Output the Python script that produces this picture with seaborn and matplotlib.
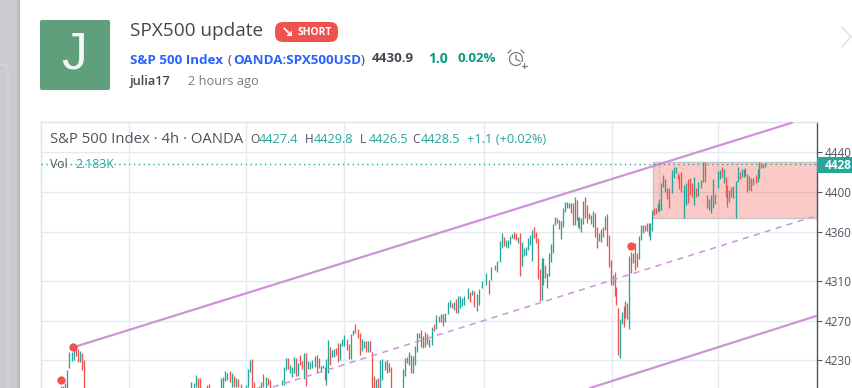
"""Redraws the SPX500 update idea card: header text plus the 4h candle chart."""
import matplotlib
matplotlib.use("Agg")
import matplotlib.pyplot as plt
import pandas as pd
import seaborn as sns
from matplotlib.lines import Line2D
from matplotlib.patches import Circle, FancyBboxPatch, Rectangle

# candles, position along the time axis, open and close
bar_pos = [61, 63, 65, 67, 69, 72, 74, 76, 78, 80, 82, 84,
           191, 194, 196, 198, 200, 207, 209, 221, 223, 225, 227, 230, 232, 234, 236, 238, 241,
           246, 248, 250, 252, 254, 257, 259, 261, 263, 266, 268, 270,
           282, 284, 286, 288, 290, 292, 294, 296, 298, 300, 302, 304, 306, 308, 310, 312, 315,
           317, 319, 321, 323, 325, 326, 328, 330, 332, 334, 336, 338, 340, 342, 344, 347, 349,
           351, 353, 355, 358, 360, 362, 364, 366, 368, 370, 372, 374, 376, 378, 380, 382, 385,
           387, 389, 391, 403, 405, 407, 409, 411, 413, 415, 417, 419, 421, 423, 425, 427, 429,
           432, 434, 436, 439, 441, 443, 445, 448, 450, 452, 454, 456, 458, 460, 462, 464, 468,
           470, 472, 474, 477, 479, 482, 486, 489, 491, 495, 497, 500, 502, 504, 506, 508, 510,
           512, 514, 516, 518, 520, 522, 524, 526, 528, 530, 532, 534, 536, 538, 540, 542, 543,
           545, 547, 549, 551, 553, 555, 557, 559, 561, 563, 565, 567, 569, 571, 573, 575, 577,
           578, 579, 581, 583, 585, 587, 589, 591, 593, 595, 597, 599, 601, 603, 605, 607, 609,
           611, 613, 615, 616, 618, 620, 622, 624, 625, 627, 629, 631, 633, 635, 637, 639, 641,
           643, 645, 647, 649, 650, 652, 654, 656, 658, 659, 661, 663, 665, 667, 669, 672, 674,
           676, 678, 679, 681, 684, 686, 688, 690, 692, 694, 696, 698, 701, 703, 705, 707, 709,
           711, 713, 715, 718, 720, 722, 724, 726, 727, 729, 731, 733, 736, 738, 740, 742, 744,
           745, 747, 749, 751, 753, 756, 758, 759, 761, 763, 765]
bar_open = [4195, 4195, 4207, 4195, 4222, 4229, 4230, 4242, 4241, 4228, 4237, 4230,
            4195, 4195, 4203, 4212, 4212, 4205, 4206, 4195, 4195, 4209, 4210, 4219, 4203, 4214, 4203, 4211, 4206,
            4195, 4203, 4218, 4231, 4208, 4203, 4204, 4195, 4216, 4202, 4212, 4210,
            4205, 4205, 4220, 4232, 4217, 4213, 4217, 4232, 4214, 4235, 4229, 4211, 4237, 4221, 4221, 4222, 4223,
            4235, 4232, 4218, 4222, 4223, 4205, 4217, 4243, 4233, 4233, 4242, 4247, 4230, 4244, 4244, 4251, 4246,
            4231, 4256, 4267, 4262, 4258, 4239, 4242, 4249, 4238, 4249, 4238, 4214, 4195, 4212, 4195, 4210, 4220,
            4230, 4227, 4223, 4195, 4214, 4233, 4225, 4235, 4217, 4225, 4238, 4253, 4261, 4242, 4259, 4257, 4243,
            4245, 4267, 4262, 4275, 4269, 4277, 4269, 4277, 4284, 4288, 4281, 4292, 4278, 4283, 4285, 4286, 4292,
            4299, 4296, 4300, 4280, 4286, 4303, 4306, 4311, 4311, 4326, 4319, 4329, 4343, 4355, 4344, 4343, 4347,
            4354, 4360, 4359, 4348, 4359, 4325, 4335, 4336, 4341, 4346, 4330, 4365, 4360, 4354, 4322, 4291, 4306,
            4326, 4303, 4315, 4329, 4338, 4367, 4374, 4372, 4353, 4365, 4380, 4384, 4384, 4389, 4389, 4367, 4392,
            4365, 4375, 4360, 4368, 4395, 4387, 4379, 4368, 4365, 4379, 4365, 4350, 4349, 4365, 4362, 4378, 4357,
            4331, 4306, 4319, 4304, 4283, 4232, 4267, 4285, 4273, 4288, 4262, 4339, 4328, 4348, 4338, 4332, 4351,
            4367, 4361, 4369, 4369, 4351, 4361, 4384, 4384, 4380, 4381, 4382, 4417, 4400, 4404, 4404, 4399, 4414,
            4419, 4419, 4417, 4420, 4374, 4387, 4413, 4414, 4409, 4387, 4404, 4396, 4404, 4410, 4430, 4397, 4382,
            4379, 4384, 4398, 4404, 4413, 4425, 4409, 4415, 4407, 4390, 4405, 4394, 4374, 4410, 4420, 4415, 4415,
            4424, 4418, 4402, 4414, 4407, 4417, 4410, 4414, 4429, 4428, 4425]
bar_close = [4204, 4204, 4195, 4220, 4238, 4238, 4241, 4234, 4228, 4239, 4220, 4195,
             4208, 4207, 4215, 4195, 4195, 4195, 4195, 4212, 4213, 4219, 4217, 4208, 4217, 4203, 4212, 4203, 4195,
             4205, 4221, 4230, 4195, 4195, 4195, 4195, 4208, 4203, 4213, 4205, 4202,
             4210, 4223, 4232, 4221, 4225, 4223, 4233, 4214, 4227, 4225, 4221, 4237, 4204, 4229, 4228, 4230, 4234,
             4217, 4222, 4224, 4225, 4210, 4231, 4250, 4225, 4240, 4241, 4235, 4228, 4247, 4252, 4256, 4240, 4231,
             4257, 4261, 4258, 4253, 4235, 4252, 4249, 4238, 4249, 4238, 4195, 4195, 4211, 4195, 4230, 4231, 4229,
             4217, 4218, 4195, 4221, 4232, 4227, 4238, 4217, 4234, 4244, 4258, 4258, 4243, 4255, 4243, 4246, 4252,
             4264, 4260, 4276, 4269, 4277, 4265, 4278, 4289, 4291, 4283, 4289, 4278, 4295, 4295, 4293, 4295, 4303,
             4289, 4301, 4284, 4297, 4302, 4310, 4318, 4297, 4324, 4321, 4330, 4350, 4359, 4345, 4351, 4352, 4356,
             4358, 4353, 4352, 4355, 4315, 4349, 4343, 4344, 4354, 4357, 4362, 4354, 4348, 4312, 4290, 4333, 4333,
             4313, 4318, 4338, 4347, 4368, 4375, 4369, 4363, 4371, 4384, 4390, 4390, 4389, 4379, 4367, 4395, 4372,
             4375, 4363, 4374, 4391, 4374, 4369, 4373, 4377, 4381, 4355, 4343, 4359, 4363, 4355, 4376, 4345, 4324,
             4306, 4316, 4295, 4286, 4235, 4272, 4279, 4264, 4290, 4272, 4335, 4318, 4338, 4321, 4324, 4356, 4367,
             4359, 4367, 4361, 4356, 4369, 4382, 4377, 4378, 4389, 4393, 4409, 4405, 4413, 4393, 4384, 4422, 4425,
             4425, 4413, 4403, 4400, 4407, 4409, 4389, 4397, 4395, 4415, 4395, 4410, 4412, 4430, 4410, 4384, 4393,
             4397, 4413, 4388, 4421, 4422, 4415, 4423, 4395, 4385, 4402, 4395, 4406, 4411, 4425, 4413, 4423, 4423,
             4416, 4400, 4416, 4401, 4414, 4409, 4423, 4430, 4424, 4424, 4429]

# axis labels and drawings on the chart
price_ticks = [4230, 4270, 4310, 4360, 4400, 4440]
time_grid = [129, 246, 344, 484, 612, 718]
upper_x, upper_y = [73, 792], [4243, 4470]
middle_x, middle_y = [273, 813], [4203, 4375]
lower_x, lower_y = [590, 817], [4202, 4275]
signal_x, signal_y = [61, 73, 631], [4210, 4243, 4345]
box_x, box_low, box_high = 653, 4374, 4430
last_price = 4428

GREEN = "#26a69a"
RED = "#ef5350"
PURPLE = "#ce93d8"
DARK = "#50535e"
FONT = ["Open Sans", "DejaVu Sans"]
W, H = 852, 388


def put(x, y, s, size, color, weight="normal", ha="left", family=FONT):
    """text placed in picture pixels, y is the vertical centre"""
    fig.text(x / W, 1 - y / H, s, fontsize=size, color=color, fontweight=weight,
             ha=ha, va="center", family=family)


def box(x0, y0, x1, y1, color, round_px=0, zorder=1):
    """filled box in picture pixels"""
    if round_px:
        patch = FancyBboxPatch((x0 + round_px, H - y1 + round_px), x1 - x0 - 2 * round_px,
                               y1 - y0 - 2 * round_px, boxstyle=f"round,pad={round_px}",
                               fc=color, ec="none", transform=pixel, zorder=zorder)
    else:
        patch = Rectangle((x0, H - y1), x1 - x0, y1 - y0, fc=color, ec="none",
                          transform=pixel, zorder=zorder)
    fig.add_artist(patch)


def stroke(xs, ys, color, lw=1.0):
    fig.add_artist(Line2D(xs, [H - y for y in ys], color=color, lw=lw, transform=pixel,
                          solid_capstyle="round"))


sns.set_style("white")
plt.rcParams["font.family"] = FONT

fig = plt.figure(figsize=(W / 100, H / 100), dpi=100)
pixel = matplotlib.transforms.Affine2D().scale(1 / W, 1 / H) + fig.transFigure

# page behind the card
box(0, 0, 17, H, "#c9cbd0")
box(17, 0, 18.5, H, "#bfc1c6")
box(18.5, 0, 20, H, "#b2b4b8")
stroke([0, 5, 8, 8], [64.5, 64.5, 68, H], "#d6d8dc", 0.8)

# header
box(40, 20, 110, 90, "#5f9f7b", round_px=2)
put(74, 55, "J", 37, "#f4f8f5", ha="center", family=["Liberation Sans"])
put(130, 31.5, "SPX500 update", 13.7, "#434651")
box(275, 22, 338, 42, RED, round_px=8)
put(281, 33, "↘", 11, "white", weight="bold")
put(297, 32.5, "SHORT", 7.4, "white", weight="bold")
put(130, 60, "S&P 500 Index", 9.6, "#2962ff", weight="bold")
put(228, 60, "(", 9.6, "#434651")
put(233, 60, "OANDA:SPX500USD", 9.6, "#2962ff", weight="bold")
put(361, 60, ")", 9.6, "#434651")
put(372, 59, "4430.9", 9.6, "#434651", weight="bold")
put(428, 59, "1.0", 10, "#089981", weight="bold")
put(457, 59, "0.02%", 9.6, "#089981", weight="bold")
put(130, 82, "julia17", 9.2, "#434651", weight="semibold")
put(188, 82, "2 hours ago", 9.2, "#787b86")

# alarm icon and the arrow at the right edge
fig.add_artist(Circle((516, H - 59), 6.5, fc="none", ec="#787b86", lw=0.9, transform=pixel))
stroke([516, 516, 520], [55, 59.5, 61], "#787b86", 0.9)
stroke([508, 511], [53, 50], "#787b86", 0.9)
stroke([521, 524], [50, 53], "#787b86", 0.9)
box(521, 62, 527, 69, "white", zorder=3)
fig.add_artist(Line2D([521.5, 526.5], [H - 65.5] * 2, color="#787b86", lw=0.9, transform=pixel, zorder=4))
fig.add_artist(Line2D([524, 524], [H - 63, H - 68], color="#787b86", lw=0.9, transform=pixel, zorder=4))
stroke([842, 851, 842], [27, 37, 47], "#e0e3eb", 1.2)

# price chart
ax = fig.add_axes([41 / W, 0, 776 / W, 266 / H])
ax.set_xlim(41, 817)
ax.set_ylim(4202, 4470.7)
ax.set_xticks(time_grid)
ax.set_yticks(price_ticks)
ax.grid(True, color="#e3eaf0", lw=1.0)
ax.set_axisbelow(True)
ax.yaxis.tick_right()
ax.tick_params(axis="x", length=0, labelbottom=False)
ax.tick_params(axis="y", length=3.5, width=0.8, color=DARK, labelcolor=DARK, labelsize=8.5, pad=2.2,
               right=True, left=False)
ax.spines["bottom"].set_visible(False)
for side in ("top", "left"):
    ax.spines[side].set_color("#e0e3eb")
    ax.spines[side].set_linewidth(1.0)
ax.spines["right"].set_color(DARK)
ax.spines["right"].set_linewidth(1.0)

ax.add_patch(Rectangle((box_x, box_low), 817 - box_x, box_high - box_low, fc="#f44336", alpha=0.28,
                       ec="none", zorder=1))
ax.plot([box_x, 817, 817, box_x, box_x], [box_low, box_low, box_high, box_high, box_low],
        color="#c8c4c4", lw=1.0, zorder=1.5)
ax.vlines(659, box_low, box_high, color="#d0c8c8", lw=1.0, zorder=1.5)

bars = pd.DataFrame({"pos": bar_pos, "open": bar_open, "close": bar_close})
bars["color"] = [GREEN if c >= o else RED for o, c in zip(bars["open"], bars["close"])]
ax.vlines(bars["pos"], bars["open"], bars["close"], colors=bars["color"], lw=0.95, zorder=2)

sns.lineplot(x=upper_x, y=upper_y, ax=ax, color=PURPLE, lw=1.6, zorder=3)
sns.lineplot(x=lower_x, y=lower_y, ax=ax, color=PURPLE, lw=1.6, zorder=3)
sns.lineplot(x=middle_x, y=middle_y, ax=ax, color=PURPLE, lw=1.1, linestyle=(0, (4, 3.5)), zorder=3)
sns.scatterplot(x=signal_x, y=signal_y, ax=ax, color=RED, s=36, linewidth=0, zorder=4)
ax.axhline(last_price, color=GREEN, lw=1.0, linestyle=(0, (1, 2.5)), zorder=3)

# legend rows on the chart
put(50, 139, "S&P 500 Index · 4h · OANDA", 10.7, DARK)
for x, label, value in [(250, "O", "4427.4"), (305, "H", "4429.8"), (360, "L", "4426.5"), (412, "C", "4428.5")]:
    put(x, 139.5, label, 8.6, DARK)
    put(x + 9, 139.5, value, 9.2, GREEN)
put(467, 139.5, "+1.1 (+0.02%)", 9.2, GREEN)
put(50, 164, "Vol", 8.8, DARK)
put(75, 164, "2.183K", 8.8, GREEN)

# last price tag
box(817, 157, 852, 173, GREEN, zorder=5)
fig.text(825 / W, 1 - 165 / H, "4428", fontsize=8.5, color="white", fontweight="bold", va="center",
         family=FONT, zorder=6)

fig.savefig("out.png", dpi=100)
